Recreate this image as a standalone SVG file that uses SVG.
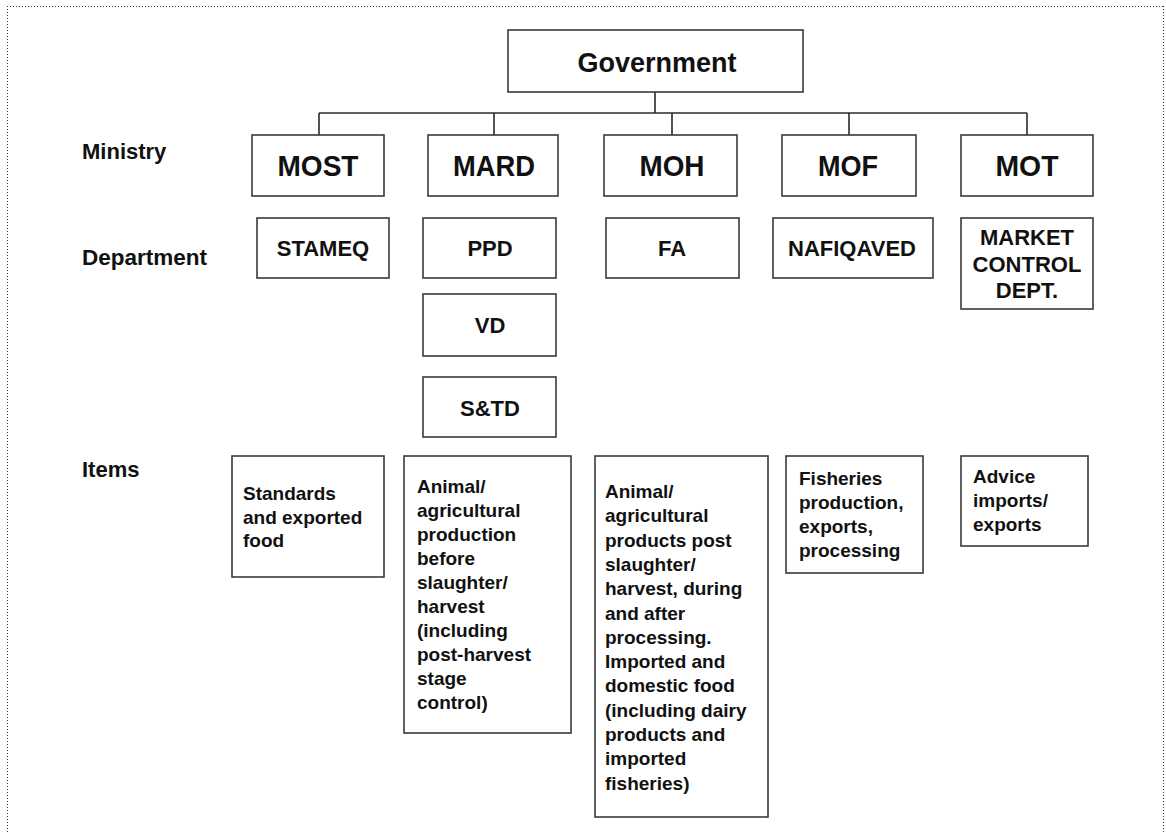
<svg xmlns="http://www.w3.org/2000/svg" width="1166" height="833" viewBox="0 0 1166 833">
<style>
.box{fill:#fff;stroke:#3a3a3a;stroke-width:1.6}
.ln{fill:none;stroke:#2a2a2a;stroke-width:1.6}
.brd{fill:none;stroke:#333;stroke-width:1;stroke-dasharray:1 2}
text{font-family:"Liberation Sans",Arial,sans-serif;font-weight:bold;fill:#111}
.gov{font-size:27px;text-anchor:middle}
.min{font-size:30px;text-anchor:middle}
.dep{font-size:22px;text-anchor:middle}
.lbl{font-size:22px}
.itm{font-size:19px}
</style>
<rect width="1166" height="833" fill="#fff"/>
<g id="border">
<line class="brd" x1="7" y1="6.5" x2="1164" y2="6.5"/>
<line class="brd" x1="7.5" y1="6" x2="7.5" y2="833"/>
<line class="brd" x1="1163.5" y1="6" x2="1163.5" y2="833"/>
</g>
<g id="connectors">
<line class="ln" x1="655" y1="92" x2="655" y2="113"/>
<line class="ln" x1="319" y1="113" x2="1027" y2="113"/>
<line class="ln" x1="319" y1="113" x2="319" y2="135"/>
<line class="ln" x1="494" y1="113" x2="494" y2="135"/>
<line class="ln" x1="672" y1="113" x2="672" y2="135"/>
<line class="ln" x1="849" y1="113" x2="849" y2="135"/>
<line class="ln" x1="1027" y1="113" x2="1027" y2="135"/>
</g>
<g id="labels">
<text class="lbl" x="82" y="159">Ministry</text>
<text class="lbl" x="82" y="265" textLength="125" lengthAdjust="spacingAndGlyphs">Department</text>
<text class="lbl" x="82" y="477">Items</text>
</g>
<g id="government"><rect class="box" x="508" y="30" width="295" height="62"/><text class="gov" x="657" y="72">Government</text></g>
<g id="most"><rect class="box" x="252" y="135" width="132" height="61"/><text class="min" x="318" y="176" textLength="81" lengthAdjust="spacingAndGlyphs">MOST</text></g>
<g id="mard"><rect class="box" x="428" y="135" width="130" height="61"/><text class="min" x="494" y="176" textLength="82" lengthAdjust="spacingAndGlyphs">MARD</text></g>
<g id="moh"><rect class="box" x="604" y="135" width="133" height="61"/><text class="min" x="672" y="176" textLength="65" lengthAdjust="spacingAndGlyphs">MOH</text></g>
<g id="mof"><rect class="box" x="782" y="135" width="134" height="61"/><text class="min" x="848" y="176" textLength="60" lengthAdjust="spacingAndGlyphs">MOF</text></g>
<g id="mot"><rect class="box" x="961" y="135" width="132" height="61"/><text class="min" x="1027" y="176" textLength="63" lengthAdjust="spacingAndGlyphs">MOT</text></g>
<g id="stameq"><rect class="box" x="257" y="218" width="132" height="60"/><text class="dep" x="323" y="256">STAMEQ</text></g>
<g id="ppd"><rect class="box" x="423" y="218" width="133" height="60"/><text class="dep" x="490" y="256">PPD</text></g>
<g id="vd"><rect class="box" x="423" y="294" width="133" height="62"/><text class="dep" x="490" y="333">VD</text></g>
<g id="std"><rect class="box" x="423" y="377" width="133" height="60"/><text class="dep" x="490" y="416">S&amp;TD</text></g>
<g id="fa"><rect class="box" x="606" y="218" width="133" height="60"/><text class="dep" x="672" y="256">FA</text></g>
<g id="nafiqaved"><rect class="box" x="773" y="218" width="160" height="60"/><text class="dep" x="852" y="256">NAFIQAVED</text></g>
<g id="market"><rect class="box" x="961" y="218" width="132" height="91"/><text class="dep" x="1027"><tspan x="1027" y="245">MARKET</tspan><tspan x="1027" y="272">CONTROL</tspan><tspan x="1027" y="298">DEPT.</tspan></text></g>
<g id="items-most"><rect class="box" x="232" y="456" width="152" height="121"/><text class="itm"><tspan x="243" y="500">Standards</tspan><tspan x="243" y="523.5">and exported</tspan><tspan x="243" y="547">food</tspan></text></g>
<g id="items-mard"><rect class="box" x="404" y="456" width="167" height="277"/><text class="itm"><tspan x="417" y="493">Animal/</tspan><tspan x="417" y="517">agricultural</tspan><tspan x="417" y="541">production</tspan><tspan x="417" y="565">before</tspan><tspan x="417" y="589">slaughter/</tspan><tspan x="417" y="613">harvest</tspan><tspan x="417" y="637">(including</tspan><tspan x="417" y="661">post-harvest</tspan><tspan x="417" y="685">stage</tspan><tspan x="417" y="709">control)</tspan></text></g>
<g id="items-moh"><rect class="box" x="595" y="456" width="173" height="361"/><text class="itm"><tspan x="605" y="498">Animal/</tspan><tspan x="605" y="522.3">agricultural</tspan><tspan x="605" y="546.6">products post</tspan><tspan x="605" y="570.9">slaughter/</tspan><tspan x="605" y="595.2">harvest, during</tspan><tspan x="605" y="619.5">and after</tspan><tspan x="605" y="643.8">processing.</tspan><tspan x="605" y="668.1">Imported and</tspan><tspan x="605" y="692.4">domestic food</tspan><tspan x="605" y="716.7">(including dairy</tspan><tspan x="605" y="741">products and</tspan><tspan x="605" y="765.3">imported</tspan><tspan x="605" y="789.6">fisheries)</tspan></text></g>
<g id="items-mof"><rect class="box" x="786" y="456" width="137" height="117"/><text class="itm"><tspan x="799" y="485">Fisheries</tspan><tspan x="799" y="509">production,</tspan><tspan x="799" y="533">exports,</tspan><tspan x="799" y="557">processing</tspan></text></g>
<g id="items-mot"><rect class="box" x="961" y="456" width="127" height="90"/><text class="itm"><tspan x="973" y="483">Advice</tspan><tspan x="973" y="507">imports/</tspan><tspan x="973" y="531">exports</tspan></text></g>
</svg>
